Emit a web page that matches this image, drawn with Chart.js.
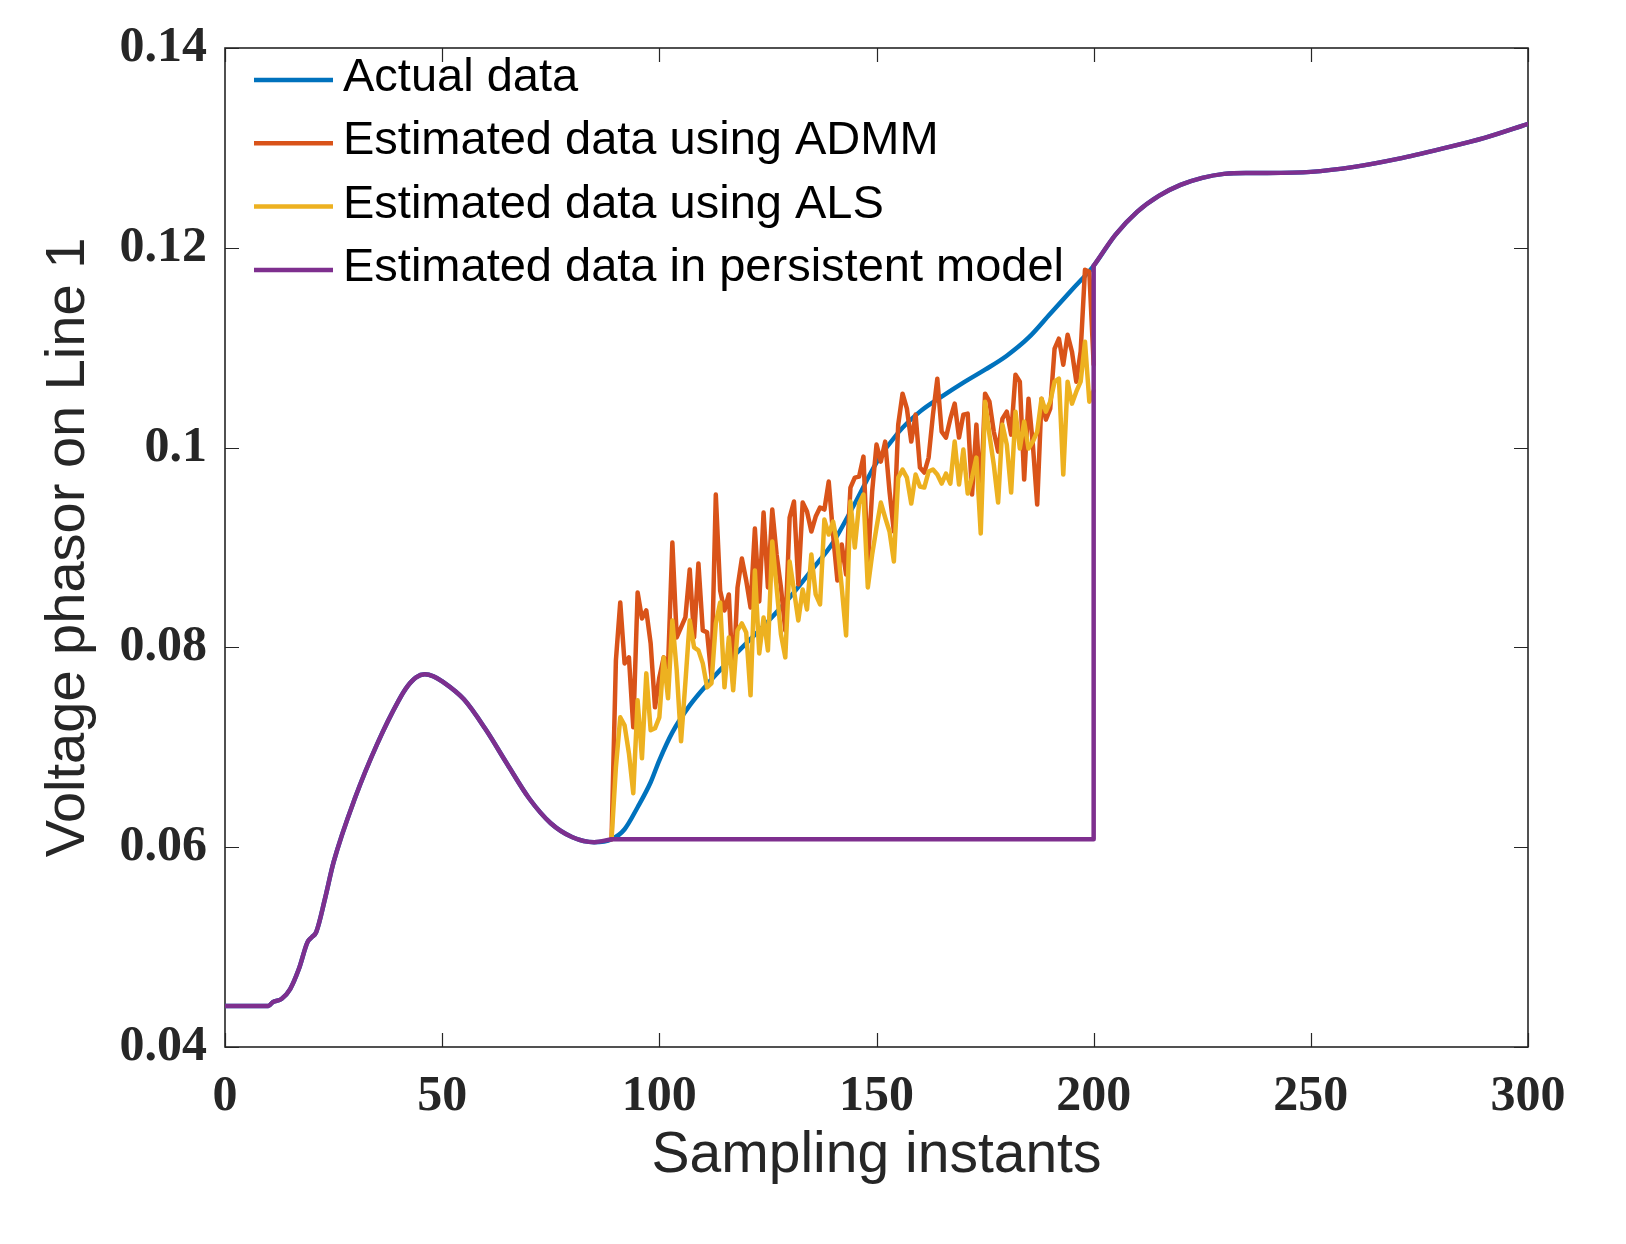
<!DOCTYPE html>
<html>
<head>
<meta charset="utf-8">
<title>Voltage phasor on Line 1</title>
<script src="https://cdn.jsdelivr.net/npm/chart.js@4.4.1/dist/chart.umd.min.js"></script>
<style>
  html, body { margin: 0; padding: 0; background: #fff; }
  #wrap { width: 1626px; height: 1244px; }
</style>
</head>
<body>
<div id="wrap"><canvas id="phasorChart" width="1626" height="1244"></canvas></div>
<script>
// --- 1. DATA ---
// actual trajectory
const actualX = [0, 10, 11, 13, 15, 17, 19, 20, 21, 23,
  25, 30, 35, 40, 42, 44, 46, 48, 50, 55,
  60, 65, 70, 75, 80, 85, 89, 92, 95, 98,
  100, 103, 107, 111, 115, 120, 125, 130, 135, 140,
  145, 150, 155, 160, 165, 170, 175, 180, 185, 190,
  195, 200, 205, 210, 215, 220, 225, 230, 235, 240,
  250, 260, 270, 280, 290, 300];
const actualY = [0.0441, 0.0441, 0.0445, 0.0448, 0.0458, 0.0478, 0.0505, 0.0510, 0.0515, 0.0548,
  0.0585, 0.0650, 0.0703, 0.0747, 0.0761, 0.0770, 0.0773, 0.0771, 0.0766, 0.0748,
  0.0718, 0.0683, 0.0649, 0.0624, 0.0610, 0.0605, 0.0608, 0.0618, 0.0640, 0.0665,
  0.0687, 0.0715, 0.0742, 0.0763, 0.0782, 0.0804, 0.0826, 0.0850, 0.0877, 0.0905,
  0.0944, 0.0985, 0.1015, 0.1036, 0.1051, 0.1065, 0.1078, 0.1092, 0.1110, 0.1134,
  0.1158, 0.1182, 0.1213, 0.1236, 0.1252, 0.1263, 0.1270, 0.1274, 0.1275, 0.1275,
  0.1276, 0.1281, 0.1289, 0.1299, 0.1310, 0.1324];

// estimation window: one value per sampling instant, starting at estStart
const estStart = 89;
const admmY = [0.0608, 0.0787, 0.0845, 0.0784, 0.0790, 0.0720, 0.0855, 0.0829, 0.0837, 0.0804,
  0.0740, 0.0770, 0.0790, 0.0780, 0.0905, 0.0810, 0.0820, 0.0830, 0.0878, 0.0810,
  0.0884, 0.0817, 0.0815, 0.0770, 0.0953, 0.0857, 0.0837, 0.0853, 0.0764, 0.0860,
  0.0889, 0.0867, 0.0840, 0.0919, 0.0846, 0.0935, 0.0860, 0.0938, 0.0893, 0.0860,
  0.0817, 0.0930, 0.0946, 0.0863, 0.0945, 0.0936, 0.0916, 0.0931, 0.0940, 0.0938,
  0.0966, 0.0913, 0.0867, 0.0903, 0.0873, 0.0960, 0.0970, 0.0971, 0.0991, 0.0883,
  0.0956, 0.1003, 0.0986, 0.1006, 0.0956, 0.0916, 0.1023, 0.1054, 0.1039, 0.1006,
  0.1033, 0.0980, 0.0975, 0.0990, 0.1033, 0.1069, 0.1016, 0.1010, 0.1029, 0.1044,
  0.1010, 0.1033, 0.1034, 0.0953, 0.1023, 0.0950, 0.1054, 0.1046, 0.1016, 0.0996,
  0.1029, 0.1036, 0.1013, 0.1073, 0.1066, 0.0968, 0.1049, 0.1003, 0.0943, 0.1049,
  0.1028, 0.1039, 0.1099, 0.1109, 0.1083, 0.1113, 0.1096, 0.1066, 0.1096, 0.1178,
  0.1176, 0.1083];
const alsY = [0.0608, 0.0680, 0.0730, 0.0722, 0.0694, 0.0654, 0.0747, 0.0689, 0.0774, 0.0717,
  0.0719, 0.0730, 0.0790, 0.0749, 0.0827, 0.0777, 0.0706, 0.0765, 0.0827, 0.0800,
  0.0797, 0.0784, 0.0760, 0.0764, 0.0824, 0.0845, 0.0760, 0.0810, 0.0757, 0.0817,
  0.0824, 0.0815, 0.0752, 0.0877, 0.0794, 0.0830, 0.0797, 0.0906, 0.0860, 0.0813,
  0.0790, 0.0886, 0.0857, 0.0827, 0.0858, 0.0838, 0.0893, 0.0853, 0.0843, 0.0928,
  0.0913, 0.0926, 0.0903, 0.0860, 0.0812, 0.0946, 0.0900, 0.0944, 0.0953, 0.0860,
  0.0893, 0.0920, 0.0945, 0.0930, 0.0916, 0.0886, 0.0970, 0.0978, 0.0970, 0.0944,
  0.0973, 0.0961, 0.0960, 0.0976, 0.0978, 0.0973, 0.0964, 0.0974, 0.0964, 0.1006,
  0.0963, 0.0998, 0.0954, 0.0970, 0.0990, 0.0914, 0.1046, 0.1013, 0.0983, 0.0945,
  0.1023, 0.1003, 0.0955, 0.1036, 0.0999, 0.1026, 0.0999, 0.1006, 0.1016, 0.1049,
  0.1036, 0.1046, 0.1066, 0.1069, 0.0973, 0.1066, 0.1044, 0.1056, 0.1066, 0.1106,
  0.1046, 0.1057];

// persistent model freezes the last value until the window closes
const holdStart = 89;
const holdEnd = 200;
const holdValue = 0.0608;

const xTicks = [0, 50, 100, 150, 200, 250, 300];
const yTicks = [0.04, 0.06, 0.08, 0.1, 0.12, 0.14];
const yTickLabels = ['0.04', '0.06', '0.08', '0.1', '0.12', '0.14'];

const seriesNames = ['Actual data', 'Estimated data using ADMM', 'Estimated data using ALS', 'Estimated data in persistent model'];
const seriesColors = ['#0072BD', '#D95319', '#EDB120', '#7E2F8E'];

// --- 2. POINTS ---
const actualPts = actualX.map((x, i) => ({ x: x, y: actualY[i] }));
const admmPts = admmY.map((y, i) => ({ x: estStart + i, y: y }));
const alsPts = alsY.map((y, i) => ({ x: estStart + i, y: y }));
// persistent curve = actual before/after the window + a flat hold with a vertical catch-up
const persistBefore = actualPts.filter(p => p.x <= holdStart);
const persistAfter = actualPts.filter(p => p.x >= holdEnd);
const persistHold = [
  { x: holdStart, y: holdValue },
  { x: holdEnd, y: holdValue },
  persistAfter[0]
];

// --- 3. PLUGINS ---
// matlab-style box with ticks pointing inwards on all four sides
const boxPlugin = {
  id: 'boxPlugin',
  beforeDatasetsDraw(chart) {
    const { ctx, chartArea: { left, right, top, bottom }, scales: { x, y } } = chart;
    const len = 14;
    ctx.save();
    ctx.strokeStyle = '#262626';
    ctx.lineWidth = 1.2;
    ctx.beginPath();
    x.ticks.forEach(t => {
      const px = Math.round(x.getPixelForValue(t.value)) + 0.5;
      ctx.moveTo(px, bottom); ctx.lineTo(px, bottom - len);
      ctx.moveTo(px, top); ctx.lineTo(px, top + len);
    });
    y.ticks.forEach(t => {
      const py = Math.round(y.getPixelForValue(t.value)) + 0.5;
      ctx.moveTo(left, py); ctx.lineTo(left + len, py);
      ctx.moveTo(right, py); ctx.lineTo(right - len, py);
    });
    ctx.stroke();
    ctx.lineWidth = 1.6;
    ctx.strokeRect(left, top, right - left, bottom - top);
    ctx.restore();
  }
};

// legend sits inside the plot, no frame
const legendPlugin = {
  id: 'legendPlugin',
  afterDatasetsDraw(chart) {
    const { ctx, chartArea: { left, top } } = chart;
    ctx.save();
    ctx.font = '47px "Liberation Sans", Arial, sans-serif';
    ctx.fillStyle = '#000';
    ctx.textBaseline = 'alphabetic';
    seriesNames.forEach((name, i) => {
      const rowY = top + 32 + i * 63.3;
      ctx.strokeStyle = seriesColors[i];
      ctx.lineWidth = 4.5;
      ctx.beginPath();
      ctx.moveTo(left + 29, rowY);
      ctx.lineTo(left + 108, rowY);
      ctx.stroke();
      ctx.fillText(name, left + 118, rowY + 11);
    });
    ctx.restore();
  }
};

// --- 4. CHART ---
const lineStyle = { pointRadius: 0, borderWidth: 4.5, fill: false, borderJoinStyle: 'round', borderCapStyle: 'round' };
const smooth = { cubicInterpolationMode: 'monotone' };
const straight = { tension: 0 };

new Chart(document.getElementById('phasorChart'), {
  type: 'line',
  data: {
    datasets: [
      { ...lineStyle, ...smooth, label: seriesNames[0], data: actualPts, borderColor: seriesColors[0], order: 6 },
      { ...lineStyle, ...straight, label: seriesNames[1], data: admmPts, borderColor: seriesColors[1], order: 5 },
      { ...lineStyle, ...straight, label: seriesNames[2], data: alsPts, borderColor: seriesColors[2], order: 4 },
      { ...lineStyle, ...smooth, label: seriesNames[3], data: persistBefore, borderColor: seriesColors[3], order: 3 },
      { ...lineStyle, ...straight, label: seriesNames[3], data: persistHold, borderColor: seriesColors[3], order: 2 },
      { ...lineStyle, ...smooth, label: seriesNames[3], data: persistAfter, borderColor: seriesColors[3], order: 1 }
    ]
  },
  options: {
    responsive: false,
    animation: false,
    devicePixelRatio: 1,
    layout: { padding: { left: 0, right: 98, top: 46, bottom: 0 } },
    plugins: { legend: { display: false }, tooltip: { enabled: false } },
    scales: {
      x: {
        type: 'linear', min: 0, max: 300,
        afterBuildTicks: s => { s.ticks = xTicks.map(v => ({ value: v })); },
        afterFit: s => { s.height = 197; },
        grid: { display: false, drawTicks: false },
        border: { display: false },
        ticks: {
          autoSkip: false, maxRotation: 0, padding: 20, color: '#262626',
          font: { family: '"Liberation Serif", "Times New Roman", serif', size: 50, weight: 'bold' }
        },
        title: {
          display: true, text: 'Sampling instants', color: '#262626',
          font: { family: '"Liberation Sans", Arial, sans-serif', size: 57 },
          padding: { top: 0, bottom: 54 }
        }
      },
      y: {
        type: 'linear', min: 0.04, max: 0.14,
        afterBuildTicks: s => { s.ticks = yTicks.map(v => ({ value: v })); },
        afterFit: s => { s.width = 225; },
        grid: { display: false, drawTicks: false },
        border: { display: false },
        ticks: {
          padding: 18, color: '#262626',
          font: { family: '"Liberation Serif", "Times New Roman", serif', size: 50, weight: 'bold' },
          callback: (v, i) => yTickLabels[i]
        },
        title: {
          display: true, text: 'Voltage phasor on Line 1', color: '#262626',
          font: { family: '"Liberation Sans", Arial, sans-serif', size: 56 },
          padding: { top: 35, bottom: 0 }
        }
      }
    }
  },
  plugins: [boxPlugin, legendPlugin]
});
</script>
</body>
</html>
